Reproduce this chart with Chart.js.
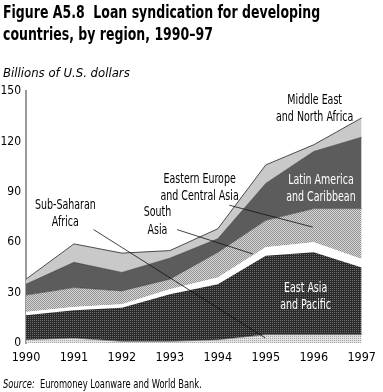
<!DOCTYPE html>
<html>
<head>
<meta charset="utf-8">
<script src="https://cdn.jsdelivr.net/npm/chart.js@4.4.1/dist/chart.umd.min.js"></script>
<style>
  html, body { margin: 0; padding: 0; background: #fff; }
  #wrap { position: relative; width: 383px; height: 392px; overflow: hidden; }
  #c { position: absolute; left: 0; top: 0; }
  .t { position: absolute; left: 3px; font-family: 'DejaVu Sans Condensed', 'Liberation Sans Narrow', sans-serif; color: #000; white-space: nowrap; transform-origin: 0 0; }
  #title { top: 1px; font-weight: bold; font-size: 18px; line-height: 22px; }
  #sub { top: 65px; font-style: italic; font-size: 12.5px; }
  #src { top: 377px; font-size: 12px; }
  #src i { font-style: italic; }
</style>
</head>
<body>
<div id="wrap">
  <canvas id="c" width="383" height="392"></canvas>
  <div class="t" id="title"><span id="t1">Figure A5.8&nbsp; Loan syndication for developing</span><br>countries, by region, 1990–97</div>
  <div class="t" id="sub">Billions of U.S. dollars</div>
  <div class="t" id="src"><i>Source:</i>&nbsp; Euromoney Loanware and World Bank.</div>
</div>
<script>
// ---- data (billions of U.S. dollars) ----
const years = ['1990', '1991', '1992', '1993', '1994', '1995', '1996', '1997'];
const subSaharanAfrica = [2, 3, 1, 1, 2, 5, 5, 5];
const eastAsiaPacific  = [14.5, 16.5, 20, 28, 33, 47, 49, 40];
const southAsia        = [2, 2, 2, 3, 4, 5, 6, 5];
const easternEurope    = [10, 11.5, 8, 6, 15, 16, 20, 30];
const latinAmerica     = [6.5, 15, 11, 12.5, 8, 22, 34, 42.5];
const middleEast       = [3, 11, 11.5, 4.5, 6, 11, 4, 11.5];
const yTicks = [0, 30, 60, 90, 120, 150];

const FONT = "'DejaVu Sans Condensed', 'Liberation Sans Narrow', sans-serif";

// squeeze HTML text to the condensed widths of the original typeface
function fit(el, w) { el.style.transform = 'scaleX(' + (w / el.scrollWidth) + ')'; }
const titleEl = document.getElementById('title');
fit(titleEl, 317 * titleEl.scrollWidth / document.getElementById('t1').offsetWidth);
fit(document.getElementById('sub'), 127);
fit(document.getElementById('src'), 199);

function pattern(w, h, base, dots) {
  const c = document.createElement('canvas');
  c.width = w; c.height = h;
  const g = c.getContext('2d');
  g.fillStyle = base; g.fillRect(0, 0, w, h);
  g.fillStyle = dots[0];
  for (const [x, y] of dots[1]) g.fillRect(x, y, 1, 1);
  return g.createPattern(c, 'repeat');
}
const ctx = document.getElementById('c').getContext('2d');
const darkStipple  = pattern(2, 2, '#2a2a2a', ['#6e6e6e', [[0, 0]]]);
const lightStipple = pattern(2, 2, '#e2e2e2', ['#a8a8a8', [[0, 0]]]);
const checker      = pattern(2, 2, '#d6d6d6', ['#939393', [[0, 0], [1, 1]]]);

// annotation text (positions in data units: category index, value)
const notes = [
  { lines: ['Middle East', 'and North Africa'], x: 6.02, y: [144.5, 134.2], color: '#000' },
  { lines: ['Latin America', 'and Caribbean'], x: 6.15, y: [97, 86.5], color: '#fff' },
  { lines: ['Eastern Europe', 'and Central Asia'], x: 3.62, y: [97.6, 87.5], color: '#000' },
  { lines: ['South', 'Asia'], x: 2.74, y: [77.4, 66.7], color: '#000' },
  { lines: ['Sub-Saharan', 'Africa'], x: 0.82, y: [82, 72], color: '#000' },
  { lines: ['East Asia', 'and Pacific'], x: 5.83, y: [32.5, 22.3], color: '#fff' }
];
const leaders = [
  { from: [1.41, 67.5], to: [4.99, 3] },
  { from: [3.15, 67.5], to: [4.73, 53] },
  { from: [4.24, 82], to: [5.98, 69] }
];
const NOTE_SQUEEZE = 0.78;

const notePlugin = {
  id: 'notes',
  afterDatasetsDraw(chart) {
    const { ctx, scales: { x, y } } = chart;
    ctx.save();
    ctx.strokeStyle = '#111';
    ctx.lineWidth = 0.8;
    for (const l of leaders) {
      ctx.beginPath();
      ctx.moveTo(x.getPixelForValue(l.from[0]), y.getPixelForValue(l.from[1]));
      ctx.lineTo(x.getPixelForValue(l.to[0]), y.getPixelForValue(l.to[1]));
      ctx.stroke();
    }
    ctx.font = '13.5px ' + FONT;
    ctx.textAlign = 'center';
    ctx.textBaseline = 'middle';
    for (const n of notes) {
      ctx.fillStyle = n.color;
      n.lines.forEach((t, i) => {
        ctx.save();
        ctx.translate(x.getPixelForValue(n.x), y.getPixelForValue(n.y[i]));
        ctx.scale(NOTE_SQUEEZE, 1);
        ctx.fillText(t, 0, 0);
        ctx.restore();
      });
    }
    ctx.restore();
  }
};

function ds(label, data, bg, fill, bw) {
  return { label, data, backgroundColor: bg, borderColor: '#3a3a3a', borderWidth: bw,
           fill, pointRadius: 0, tension: 0 };
}

new Chart(ctx, {
  type: 'line',
  data: {
    labels: years,
    datasets: [
      ds('Sub-Saharan Africa', subSaharanAfrica, lightStipple, 'origin', 0.6),
      ds('East Asia and Pacific', eastAsiaPacific, darkStipple, '-1', 0),
      ds('South Asia', southAsia, '#ffffff', '-1', 0),
      ds('Eastern Europe and Central Asia', easternEurope, checker, '-1', 0.6),
      ds('Latin America and Caribbean', latinAmerica, '#5c5c5c', '-1', 0.6),
      ds('Middle East and North Africa', middleEast, '#c9c9c9', '-1', 0.9)
    ]
  },
  options: {
    responsive: false,
    animation: false,
    layout: { padding: { left: 0, right: 15, top: 91, bottom: 29 } },
    plugins: { legend: { display: false }, tooltip: { enabled: false }, title: { display: false } },
    scales: {
      x: {
        offset: false,
        grid: { display: false, drawTicks: false },
        border: { display: false },
        ticks: { color: '#000', padding: 7, maxRotation: 0, autoSkip: false, font: { family: FONT, size: 12.5 } },
        afterFit(s) { s.height = 20; }
      },
      y: {
        stacked: true,
        min: 0, max: 150,
        afterBuildTicks(s) { s.ticks = yTicks.map(v => ({ value: v })); },
        grid: { display: false, drawTicks: false },
        border: { display: true, color: '#9a9a9a', width: 2 },
        ticks: { color: '#000', padding: 5, font: { family: FONT, size: 12 } },
        afterFit(s) { s.width = 26; }
      }
    }
  },
  plugins: [notePlugin]
});
</script>
</body>
</html>
